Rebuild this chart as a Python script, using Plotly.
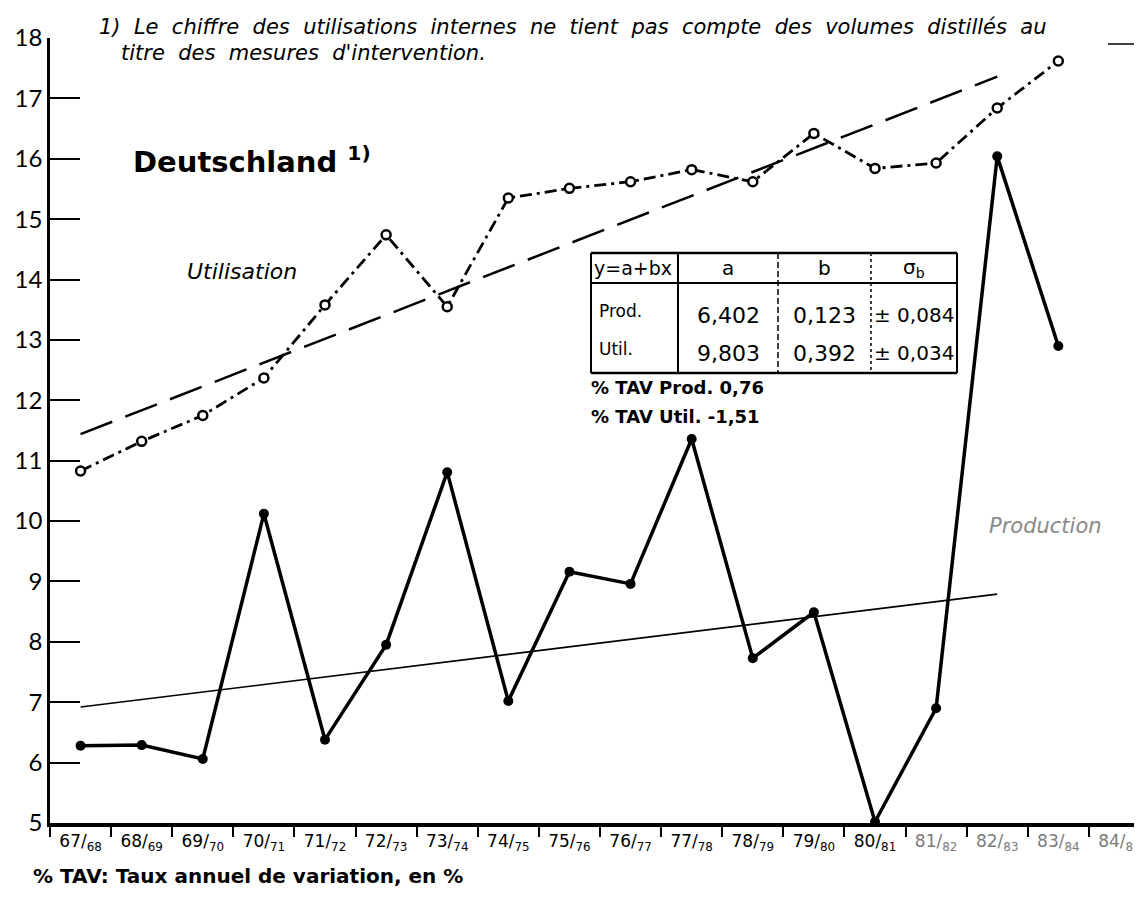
import plotly.graph_objects as go

# ---- data ----
periods = ["67/68", "68/69", "69/70", "70/71", "71/72", "72/73", "73/74", "74/75", "75/76",
           "76/77", "77/78", "78/79", "79/80", "80/81", "81/82", "82/83", "83/84", "84/85"]
production = [6.28, 6.29, 6.06, 10.12, 6.38, 7.95, 10.81, 7.02, 9.16,
              8.96, 11.36, 7.73, 8.49, 5.02, 6.90, 16.04, 12.90]
utilisation = [10.83, 11.32, 11.75, 12.37, 13.58, 14.74, 13.55, 15.35, 15.51,
               15.62, 15.82, 15.62, 16.42, 15.84, 15.93, 16.84, 17.62]
trend_periods = ["67/68", "82/83"]
prod_trend = [6.92, 8.79]
util_trend = [11.44, 17.36]

table_header = ["y=a+bx", "a", "b", "σ<sub>b</sub>"]
table_rows = [["Prod.", "6,402", "0,123", "± 0,084"],
              ["Util.", "9,803", "0,392", "± 0,034"]]
tav_notes = ["% TAV Prod. 0,76", "% TAV Util. -1,51"]
footnote_lines = ["1) Le chiffre des utilisations internes ne tient pas compte des volumes distillés au",
                  "titre des mesures d'intervention."]

# ---- layout helpers (pixel -> paper) ----
W, H = 1142, 902
L, R, T, B = 42, 0, 30, 87
PW, PH = W - L - R, H - T - B


def px(x):
    return (x - L) / PW


def py(y):
    return (H - B - y) / PH


FONT = "DejaVu Sans"
TICKFONT = "Lato"

fig = go.Figure()

# trend lines
fig.add_trace(go.Scatter(x=trend_periods, y=util_trend, mode="lines",
                         line=dict(color="black", width=2.5, dash="34px,14px"),
                         showlegend=False, hoverinfo="skip"))
fig.add_trace(go.Scatter(x=trend_periods, y=prod_trend, mode="lines",
                         line=dict(color="black", width=1.6),
                         showlegend=False, hoverinfo="skip"))

# series
fig.add_trace(go.Scatter(x=periods[:len(utilisation)], y=utilisation, mode="lines+markers",
                         name="Utilisation",
                         line=dict(color="black", width=2.8, dash="12px,5px,3px,5px"),
                         marker=dict(symbol="circle", size=9, color="white",
                                     line=dict(color="black", width=2.5)),
                         cliponaxis=False, showlegend=False))
fig.add_trace(go.Scatter(x=periods[:len(production)], y=production, mode="lines+markers",
                         name="Production",
                         line=dict(color="black", width=3.5),
                         marker=dict(symbol="circle", size=10, color="black"),
                         cliponaxis=False, showlegend=False))

faded = {"81/82", "82/83", "83/84", "84/85"}
ticktext = []
for p in periods:
    a, b = p.split("/")
    t = f"{a}/<sub>{b}</sub>"
    if p in faded:
        t = f"<span style='color:#7a7a7a'>{t}</span>"
    ticktext.append(t)

fig.update_xaxes(type="category", categoryorder="array", categoryarray=periods,
                 range=[-0.5, len(periods) - 0.5], tickmode="array", tickvals=periods,
                 ticktext=ticktext, tickson="boundaries", ticks="outside", ticklen=10,
                 tickwidth=1.5, tickcolor="black", showline=True, linewidth=4,
                 linecolor="black", showgrid=False, zeroline=False,
                 tickfont=dict(family=FONT, size=17, color="black"))
fig.update_yaxes(range=[5, 18], dtick=1, tick0=5, ticks="inside", ticklen=30,
                 tickwidth=2, tickcolor="black", showline=True, linewidth=2.5,
                 linecolor="black", showgrid=False, zeroline=False,
                 tickfont=dict(family=TICKFONT, size=24, color="black"))

ann = []


def text(x, y, s, size, xanchor="left", color="black", weight=None, yanchor="middle"):
    ann.append(dict(x=px(x), y=py(y), xref="paper", yref="paper", text=s, showarrow=False,
                    xanchor=xanchor, yanchor=yanchor, borderpad=0,
                    font=dict(family=FONT, size=size, color=color,
                              weight=weight if weight else "normal")))


def wide(s):
    # the typewritten footnote has generous word spacing
    return s.replace(" ", "\u00a0\u00a0")


# footnote at top (two lines meeting at y=32 px)
text(90, 32, "<i>" + wide(footnote_lines[0]) + "</i>", 21, yanchor="bottom")
text(112, 32, "<i>" + wide(footnote_lines[1]) + "</i>", 21, yanchor="top")
# title
text(124, 152, "Deutschland <sup>1)</sup>", 29, weight="bold")
# series labels
text(178, 263, "<i>Utilisation</i>", 22)
text(980, 518, "<i>Production</i>", 21, color="#8a8a8a")
# bottom note
text(24, 868, "% TAV: Taux annuel de variation, en %", 20, weight="bold")

# table
col_edges = [583, 670, 770, 863, 949]
row_top, row_mid, row_bot = 245, 275, 365
row_centers = [304, 342]
header_center = 260
for i, h in enumerate(table_header):
    if i == 0:
        text(col_edges[0] + 2, header_center, h, 19)
    else:
        text((col_edges[i] + col_edges[i + 1]) / 2, header_center, h, 20, xanchor="center")
for r, row in enumerate(table_rows):
    for i, c in enumerate(row):
        if i == 0:
            text(col_edges[0] + 7, row_centers[r] - 1, c, 17)
        else:
            text((col_edges[i] + col_edges[i + 1]) / 2, row_centers[r] + 3, c,
                 22 if i < 3 else 20, xanchor="center")
for k, note in enumerate(tav_notes):
    text(582, 379 + 29 * k, note, 18, weight="bold")

shapes = []


def line(x0, y0, x1, y1, w=2, dash="solid"):
    shapes.append(dict(type="line", xref="paper", yref="paper", x0=px(x0), y0=py(y0),
                       x1=px(x1), y1=py(y1), line=dict(color="black", width=w, dash=dash)))


line(col_edges[0], row_top, col_edges[-1], row_top, 2.5)
line(col_edges[0], row_mid, col_edges[-1], row_mid, 2)
line(col_edges[0], row_bot, col_edges[-1], row_bot, 2.5)
line(col_edges[0], row_top, col_edges[0], row_bot, 2)
line(col_edges[-1], row_top, col_edges[-1], row_bot, 2)
line(col_edges[1], row_top, col_edges[1], row_bot, 2)
line(col_edges[2], row_top, col_edges[2], row_bot, 1.5, "6px,3px")
line(col_edges[3], row_top, col_edges[3], row_bot, 1.5, "3px,3px")
# continuation rule after the footnote
line(1100, 36, 1142, 36, 1.5)

fig.update_layout(width=W, height=H, margin=dict(l=L, r=R, t=T, b=B, pad=0),
                  plot_bgcolor="white", paper_bgcolor="white",
                  annotations=ann, shapes=shapes, showlegend=False,
                  font=dict(family=FONT, color="black"))

fig.write_html("out.html")
